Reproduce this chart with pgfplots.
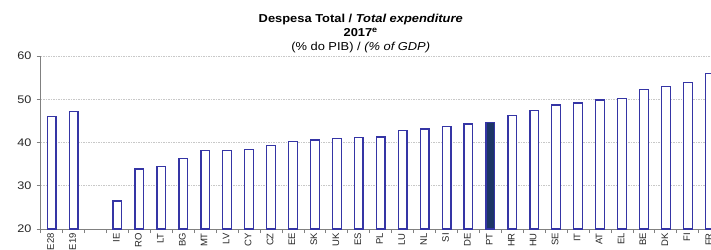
\documentclass[border=0pt]{standalone}
\usepackage{pgfplots}
\pgfplotsset{compat=1.18}
\usepackage{fontspec}
\setmainfont{Liberation Sans}
\definecolor{barline}{HTML}{3535A5}
\definecolor{ptfill}{HTML}{1C3566}
\definecolor{gridc}{HTML}{C8C8C8}
\definecolor{axc}{HTML}{808080}
\begin{document}
\begin{tikzpicture}
\begin{axis}[
  name=ax,
  scale only axis,
  width=680bp, height=173bp,
  xmin=-0.5, xmax=30.5,
  ymin=20, ymax=60,
  ytick={20,30,40,50,60},
  axis x line*=bottom,
  axis y line*=left,
  axis line style={draw=axc, line width=0.8bp},
  ymajorgrids,
  grid style={draw=gridc, line width=0.6bp, dash pattern=on 1.5bp off 1bp},
  tick align=outside,
  major tick length=4bp,
  minor tick length=4bp,
  xtick={0,...,30},
  xticklabels={E28,E19,,IE,RO,LT,BG,MT,LV,CY,CZ,EE,SK,UK,ES,PL,LU,NL,SI,DE,PT,HR,HU,SE,IT,AT,EL,BE,DK,FI,FR},
  minor xtick={-0.5,0.5,...,30.5},
  x tick style={draw=none},
  minor x tick style={draw=axc, line width=0.8bp},
  y tick style={draw=axc, line width=0.8bp},
  xticklabel style={rotate=90, anchor=east, font=\fontsize{9.5bp}{10bp}\selectfont, text=black!85, inner sep=0pt, yshift=1bp},
  yticklabel style={font=\fontsize{11bp}{12bp}\selectfont, text=black!85, inner sep=0pt, xshift=-5bp, xscale=1.15},
  /pgf/number format/assume math mode=true,
  title={\textbf{Despesa Total / \textit{Total expenditure}}\\\textbf{2017\textsuperscript{e}}\\(\% do PIB) / \textit{(\% of GDP)}},
  title style={at={(0.4706,1)}, anchor=south, yshift=-3.5bp, align=center, inner sep=0pt, xscale=1.12, font=\fontsize{11.5bp}{14.2bp}\selectfont},
  ybar, bar width=8.7bp, bar shift=0pt,
  clip=true,
]
\addplot[draw=barline, fill=white, line width=1.3bp] coordinates {
(0,46.0) (1,47.1) (3,26.5) (4,33.9) (5,34.4) (6,36.3) (7,38.1) (8,38.1) (9,38.4) (10,39.3)
(11,40.3) (12,40.6) (13,41.0) (14,41.1) (15,41.3) (16,42.8) (17,43.1) (18,43.7) (19,44.3)
(21,46.3) (22,47.4) (23,48.7) (24,49.1) (25,49.8) (26,50.2) (27,52.3) (28,52.9) (29,53.8) (30,56.0)
};
\addplot[draw=barline, fill=ptfill, line width=1.3bp] coordinates {(20,44.7)};
\end{axis}
\pgfresetboundingbox
\path (ax.south west) ++(-40.7bp,-21bp) rectangle ++(711bp,250bp);
\end{tikzpicture}
\end{document}
